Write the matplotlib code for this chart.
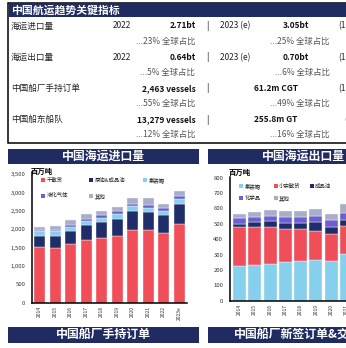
import matplotlib.pyplot as plt
from matplotlib.patches import Rectangle

plt.rcParams['font.family'] = ['Noto Sans CJK SC', 'DejaVu Sans']

# 中国海运进口量 (百万吨)
imp_years = ['2014', '2015', '2016', '2017', '2018', '2019', '2020', '2021', '2022', '2023e']
imp_dry = [1510, 1485, 1590, 1700, 1750, 1810, 1970, 1985, 1890, 2140]
imp_crude = [300, 337, 374, 410, 437, 483, 519, 474, 492, 560]
imp_box = [130, 128, 109, 128, 128, 118, 137, 128, 109, 120]
imp_gas = [35, 27, 36, 55, 64, 82, 73, 85, 91, 95]
imp_other = [95, 109, 137, 128, 128, 128, 155, 175, 109, 125]
imp_labels = ['干散货', '原油&成品油', '集装箱', '液化气体', '其他']

# 中国海运出口量 (百万吨)
exp_years = ['2014', '2015', '2016', '2017', '2018', '2019', '2020', '2021']
exp_box = [227, 233, 237, 251, 259, 265, 257, 303]
exp_minor = [255, 249, 244, 216, 206, 188, 180, 183]
exp_prod = [17, 30, 37, 40, 38, 56, 40, 42]
exp_chem = [37, 30, 32, 35, 42, 40, 48, 45]
exp_other = [28, 32, 39, 42, 40, 46, 40, 54]
exp_labels = ['集装箱', '小宗散货', '成品油', '化学品', '其他']

# key indicator table
kpi_names = ['海运进口量', '海运出口量', '中国船厂手持订单', '中国船东船队']
kpi_year1 = ['2022', '2022', '', '']
kpi_val1 = ['2.71bt', '0.64bt', '2,463 vessels', '13,279 vessels']
kpi_year2 = ['2023 (e)', '2023 (e)', '', '']
kpi_val2 = ['3.05bt', '0.70bt', '61.2m CGT', '255.8m GT']
kpi_share1 = ['...23% 全球占比', '...5% 全球占比', '...55% 全球占比', '...12% 全球占比']
kpi_share2 = ['...25% 全球占比', '...6% 全球占比', '...49% 全球占比', '...16% 全球占比']
kpi_tail = ['(1', '(1', '(1', '(']

NAVY = '#1f2b61'
RED = '#f04e58'
DARK = '#1f2d6b'
LBLUE = '#86d0ee'
PURPLE = '#6b5fd2'
GREY = '#a8aec8'

W, H = 346, 348
fig = plt.figure(figsize=(W / 100, H / 100), dpi=100)


def fx(px):
    return px / W


def fy(py):
    return 1 - py / H


def box(x0, y0, x1, y1, **kw):
    fig.add_artist(Rectangle((fx(x0), fy(y1)), fx(x1) - fx(x0), fy(y0) - fy(y1),
                             transform=fig.transFigure, **kw))


# ---- key indicators panel ----
box(8.3, 2.7, 380, 143.3, facecolor='white', edgecolor='black', linewidth=1.1)
box(8.8, 3.3, 380, 17.3, facecolor=NAVY, edgecolor='none')
fig.text(fx(11), fy(10.5), '中国航运趋势关键指标', color='white', fontsize=7.8,
         fontweight='bold', va='center', ha='left')

for i in range(4):
    ya = 26 + i * 31.2
    yb = ya + 15.3
    fig.text(fx(11), fy(ya), kpi_names[i], fontsize=6.2, va='center', color='#222222')
    if kpi_year1[i]:
        fig.text(fx(113), fy(ya), kpi_year1[i], fontsize=6.0, va='center', color='#222222')
        fig.text(fx(220), fy(ya), kpi_year2[i], fontsize=6.0, va='center', color='#222222')
        fig.text(fx(296), fy(ya), kpi_val2[i], fontsize=6.0, va='center', ha='center',
                 fontweight='bold', color='#111111')
    else:
        fig.text(fx(276), fy(ya), kpi_val2[i], fontsize=6.0, va='center', ha='center',
                 fontweight='bold', color='#111111')
    fig.text(fx(196), fy(ya), kpi_val1[i], fontsize=6.0, va='center', ha='right',
             fontweight='bold', color='#111111')
    fig.text(fx(207), fy(ya), '|', fontsize=6.5, va='center', ha='center', color='#222222')
    fig.text(fx(338 if i < 3 else 344), fy(ya), kpi_tail[i], fontsize=6.0, va='center',
             color='#222222')
    fig.text(fx(195), fy(yb), kpi_share1[i], fontsize=6.0, va='center', ha='right',
             style='italic', color='#555555')
    fig.text(fx(330), fy(yb), kpi_share2[i], fontsize=6.0, va='center', ha='right',
             style='italic', color='#555555')

# ---- section title bars ----
for (x0, x1, y0, y1, title) in [(8, 199, 149, 164.3, '中国海运进口量'),
                                (208.3, 399, 149, 164.3, '中国海运出口量'),
                                (8, 199, 326.7, 342.7, '中国船厂手持订单'),
                                (208.3, 399, 326.7, 342.7, '中国船厂新签订单&交付量')]:
    box(x0, y0, x1, y1, facecolor=NAVY, edgecolor='none')
    fig.text(fx((x0 + x0 + 191) / 2), fy((y0 + y1) / 2), title, color='white',
             fontsize=8.6, fontweight='bold', ha='center', va='center')


def stacked(ax, years, series, colors, width):
    x = list(range(len(years)))
    bottom = [0] * len(years)
    for vals, c in zip(series, colors):
        ax.bar(x, vals, width, bottom=bottom, color=c, edgecolor='#f4f4f8', linewidth=0.3)
        bottom = [b + v for b, v in zip(bottom, vals)]
    ax.set_xticks(x)
    ax.set_xticklabels(years, rotation=90, fontsize=3.6, color='#333333')
    for s in ['top', 'right']:
        ax.spines[s].set_visible(False)
    for s in ['left', 'bottom']:
        ax.spines[s].set_linewidth(1.1)
    ax.tick_params(length=0, pad=2.5)
    ax.tick_params(axis='y', labelsize=4.3, labelcolor='#333333', pad=4.5)


def legend_rows(items, xs, ys):
    for (label, color), x, y in zip(items, xs, ys):
        box(x, y - 2, x + 4, y + 2, facecolor=color, edgecolor='none')
        fig.text(fx(x + 5.2), fy(y), label, fontsize=3.9, va='center', color='#222222')


# ---- 中国海运进口量 ----
ax1 = fig.add_axes([fx(31.7), fy(302.6), fx(187.3) - fx(31.7), fy(172) - fy(302.6)])
imp_colors = [RED, DARK, LBLUE, PURPLE, GREY]
stacked(ax1, imp_years, [imp_dry, imp_crude, imp_box, imp_gas, imp_other], imp_colors, 0.69)
ax1.set_xlim(-0.52, 9.52)
ax1.set_ylim(0, 3563)
ax1.set_yticks(range(0, 3501, 500))
ax1.set_yticklabels([f'{v:,}' for v in range(0, 3501, 500)])
fig.text(fx(31), fy(171.7), '百万吨', fontsize=5.3, fontweight='bold', va='center')
legend_rows(list(zip(imp_labels, imp_colors)),
            [41.3, 89.3, 143.3, 41.3, 89.3], [180, 180, 180, 195.7, 195.7])

# ---- 中国海运出口量 ----
ax2 = fig.add_axes([fx(229.5), fy(300.7), fx(387) - fx(229.5), fy(176.7) - fy(300.7)])
exp_colors = [LBLUE, RED, DARK, PURPLE, GREY]
stacked(ax2, exp_years, [exp_box, exp_minor, exp_prod, exp_chem, exp_other], exp_colors, 0.85)
ax2.set_xlim(-0.65, 9.65)
ax2.set_ylim(0, 806.5)
ax2.set_yticks(range(0, 801, 100))
fig.text(fx(229), fy(172.3), '百万吨', fontsize=5.3, fontweight='bold', va='center')
legend_rows(list(zip(exp_labels, exp_colors)),
            [239.3, 274, 310, 239.3, 274], [186, 186, 186, 198.3, 198.3])

fig.savefig('out.png', dpi=100)
